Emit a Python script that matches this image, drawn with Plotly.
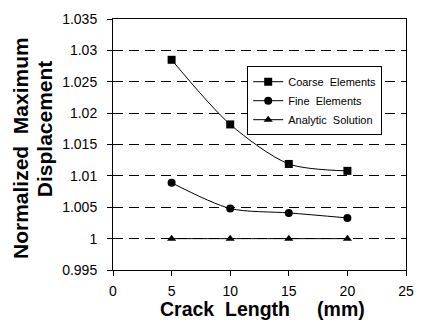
import plotly.graph_objects as go

crack_length = [5, 10, 15, 20]
coarse = [1.0285, 1.0182, 1.0119, 1.0108]
fine = [1.0089, 1.0048, 1.0041, 1.0033]
analytic = [1.0, 1.0, 1.0, 1.0]

x_ticks = [0, 5, 10, 15, 20, 25]
y_ticks = [0.995, 1, 1.005, 1.01, 1.015, 1.02, 1.025, 1.03, 1.035]
y_ticktext = ["0.995", "1", "1.005", "1.01", "1.015", "1.02", "1.025", "1.03", "1.035"]

FONT = "Liberation Sans, Arial, sans-serif"

fig = go.Figure()
series = [
    ("Coarse  Elements", coarse, "square", 8),
    ("Fine  Elements", fine, "circle", 8),
    ("Analytic  Solution", analytic, "triangle-up", 8),
]
for name, vals, sym, sz in series:
    fig.add_trace(go.Scatter(
        x=crack_length, y=vals, name=name, mode="lines+markers",
        line=dict(color="black", width=1, shape="spline", smoothing=0.8),
        marker=dict(symbol=sym, size=sz, color="black"),
    ))

fig.update_layout(
    width=425, height=324,
    margin=dict(l=113, r=11, t=16, b=54),
    paper_bgcolor="white", plot_bgcolor="white",
    font=dict(family=FONT, color="black", size=14),
    showlegend=True,
    legend=dict(x=0.458, y=0.812, xanchor="left", yanchor="top",
                bordercolor="black", borderwidth=1, bgcolor="white",
                font=dict(size=11), tracegroupgap=0, itemwidth=30),
    xaxis=dict(range=[0, 25], tickvals=x_ticks,
               showgrid=False, zeroline=False, showline=True, linecolor="black",
               linewidth=1, mirror=True, ticks="outside", ticklen=5, tickcolor="black",
               tickfont=dict(size=14), ticklabelstandoff=3),
    yaxis=dict(range=[0.995, 1.035], tickvals=y_ticks, ticktext=y_ticktext,
               showgrid=True, gridcolor="black", griddash="10px,6px", gridwidth=1,
               zeroline=False, showline=True, linecolor="black", linewidth=1, mirror=True,
               ticks="outside", ticklen=5, tickcolor="black", tickfont=dict(size=14),
               ticklabelstandoff=7),
    annotations=[
        dict(text="<b>Crack  Length     (mm)</b>", xref="paper", yref="paper",
             x=0.5, xshift=3, y=-0.157, xanchor="center", yanchor="middle", showarrow=False,
             font=dict(size=19.5, family=FONT)),
        dict(text="<b>Normalized  Maximum</b>", xref="paper", yref="paper",
             x=0, xshift=-93, y=0.486, xanchor="center", yanchor="middle",
             textangle=-90, showarrow=False, font=dict(size=21, family=FONT)),
        dict(text="<b>Displacement</b>", xref="paper", yref="paper",
             x=0, xshift=-69, y=0.561, xanchor="center", yanchor="middle",
             textangle=-90, showarrow=False, font=dict(size=21, family=FONT)),
    ],
)

fig.write_html("out.html")
